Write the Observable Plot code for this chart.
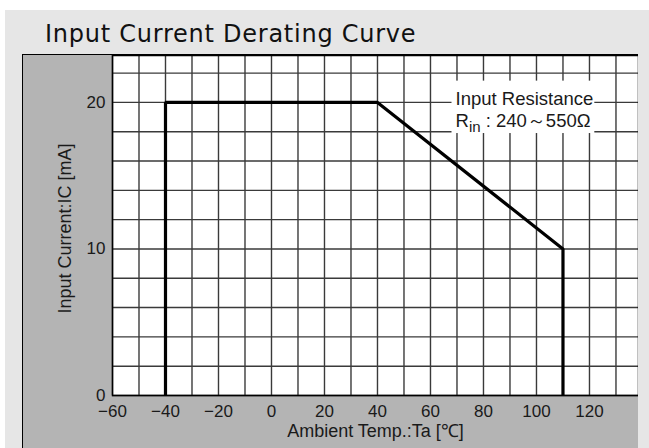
<!DOCTYPE html>
<html><head><meta charset="utf-8">
<script src="https://cdn.jsdelivr.net/npm/d3@7"></script>
<script src="https://cdn.jsdelivr.net/npm/@observablehq/plot@0.6"></script>
<style>
html,body{margin:0;padding:0;background:#fff;width:649px;height:448px;overflow:hidden}
#bg{position:absolute;left:5px;top:10px;width:644px;height:438px;background:#e6e6e6}
#title{position:absolute;left:45px;top:22px;font-family:"DejaVu Sans",sans-serif;font-size:24px;line-height:24px;letter-spacing:0.75px;color:#111;white-space:nowrap}
#panel{position:absolute;left:22px;top:54px;border-left:1px solid #000;border-top:1px solid #000}
#panel svg{display:block}
</style></head><body>
<div id="bg"></div>
<div id="title"></div>
<div id="panel"></div>
<script>
const titleText = "Input Current Derating Curve";
const xLabel = "Ambient Temp.:Ta [℃]";
const yLabel = "Input Current:IC [mA]";
const noteTitle = "Input Resistance";
const noteSymbol = "R";
const noteSub = "in";
const noteRange = " : 240～550Ω";

const temps = [-40, -40, 40, 110, 110];
const currents = [0, 20, 20, 10, 0];

const xTicks = [-60, -40, -20, 0, 20, 40, 60, 80, 100, 120];
const yTicks = [0, 10, 20];
const xGrid = [-60, -50, -40, -30, -20, -10, 0, 10, 20, 30, 40, 50, 60, 70, 80, 90, 100, 110, 120, 130];
const yGrid = [0, 2, 4, 6, 8, 10, 12, 14, 16, 18, 20, 22];

document.getElementById("title").textContent = titleText;

const curve = temps.map((t, i) => ({t, c: currents[i]}));
const fmt = d => d < 0 ? "\u2212" + (-d) : String(d);
const noteLine2 = noteSymbol + noteSub + noteRange;

const chart = Plot.plot({
  width: 615,
  height: 393,
  marginLeft: 89,
  marginRight: 0,
  marginTop: 0,
  marginBottom: 53,
  x: {domain: [-60, 138.5]},
  y: {domain: [0, 23.2]},
  style: {background: "#b4b4b4", fontFamily: "'Liberation Sans', Arial, sans-serif", fontSize: "17px", color: "#1a1a1a"},
  marks: [
    Plot.frame({fill: "white", stroke: null}),
    Plot.ruleX(xGrid, {stroke: "#3a3a3a", strokeWidth: 1.4}),
    Plot.ruleY(yGrid, {stroke: "#3a3a3a", strokeWidth: 1.4}),
    Plot.line(curve, {x: "t", y: "c", stroke: "#000", strokeWidth: 3.2, strokeLinejoin: "miter", strokeLinecap: "butt"}),
    Plot.frame({stroke: "#000", strokeWidth: 1.5}),
    Plot.axisX(xTicks, {tickSize: 0, tickPadding: 9, tickFormat: fmt, label: null, fontSize: 17}),
    Plot.axisY(yTicks, {tickSize: 0, tickPadding: 7, tickFormat: fmt, label: null, fontSize: 17}),
    Plot.text([xLabel], {frameAnchor: "bottom", dy: 41, fontSize: 18, fill: "#1a1a1a"}),
    Plot.text([yLabel], {frameAnchor: "left", textAnchor: "middle", rotate: -90, dx: -47, dy: 3, fontSize: 18, fill: "#1a1a1a"}),
    Plot.text([noteTitle], {frameAnchor: "top-left", textAnchor: "start", dx: 343, dy: 36, fontSize: 18.5, fill: "#1a1a1a"}),
    Plot.text([noteLine2], {frameAnchor: "top-left", textAnchor: "start", dx: 343, dy: 58.4, fontSize: 18.5, fill: "#1a1a1a"})
  ]
});
document.getElementById("panel").appendChild(chart);

const ns = "http://www.w3.org/2000/svg";
const texts = Array.from(chart.querySelectorAll("text"));
const t1 = texts.find(t => t.textContent === noteTitle);
const t2 = texts.find(t => t.textContent === noteLine2);
if (t2) {
  t2.textContent = "";
  const a = document.createElementNS(ns, "tspan"); a.textContent = noteSymbol;
  const b = document.createElementNS(ns, "tspan"); b.textContent = noteSub;
  b.setAttribute("font-size", "15"); b.setAttribute("dy", "5");
  const c = document.createElementNS(ns, "tspan"); c.textContent = noteRange;
  c.setAttribute("dy", "-5");
  t2.append(a, b, c);
}
if (t1 && t2) {
  const s = chart.getBoundingClientRect();
  const rr = el => {const r = el.getBoundingClientRect(); return {x: r.left - s.left, y: r.top - s.top, w: r.width, h: r.height};};
  const r1 = rr(t1), r2 = rr(t2);
  const x0 = Math.min(r1.x, r2.x) - 4, x1 = Math.max(r1.x + r1.w, r2.x + r2.w) + 1;
  const y0 = r1.y - 7, y1 = r2.y + r2.h - 2;
  const rect = document.createElementNS(ns, "rect");
  rect.setAttribute("x", x0); rect.setAttribute("y", y0);
  rect.setAttribute("width", x1 - x0); rect.setAttribute("height", y1 - y0);
  rect.setAttribute("fill", "white");
  // place the box just above the grid groups (after the third child group: frame fill, ruleX, ruleY)
  const paths = chart.querySelectorAll("path");
  let lineG = null;
  paths.forEach(p => { if (!lineG && p.getAttribute("stroke-width") === "3.2") lineG = p.closest("g"); });
  if (!lineG) {
    paths.forEach(p => { if (!lineG && p.parentNode && p.parentNode.getAttribute("stroke-width") === "3.2") lineG = p.parentNode; });
  }
  if (lineG && lineG.parentNode === chart) chart.insertBefore(rect, lineG);
  else {
    // fallback: insert before the first text-bearing group
    const gs = Array.from(chart.children).filter(e => e.tagName.toLowerCase() === "g");
    chart.insertBefore(rect, gs[3] || null);
  }
}
</script>
</body></html>
